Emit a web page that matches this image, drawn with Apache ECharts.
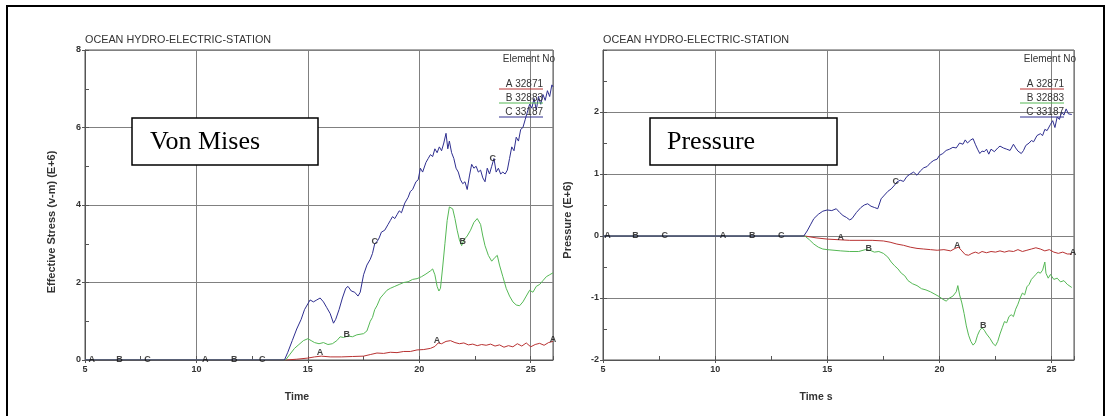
<!DOCTYPE html>
<html>
<head>
<meta charset="utf-8">
<script src="https://cdn.jsdelivr.net/npm/echarts@6/dist/echarts.min.js"></script>
<style>html,body{margin:0;padding:0;background:#fff;}#c{width:1111px;height:416px;}</style>
</head>
<body>
<div id="c"></div>
<script>
// ---------- data (time s, value E+6) ----------
var chartTitle = 'OCEAN HYDRO-ELECTRIC-STATION';
var legendTitle = 'Element No';
var legendNames = ['A 32871', 'B 32883', 'C 33187'];
var xTicks = [5, 10, 15, 20, 25];
var vmTicks = [0, 2, 4, 6, 8];
var prTicks = [-2, -1, 0, 1, 2];

var vmA = [[5,0],[14.0,0],[14.5,0.02],[15.0,0.05],[15.3,0.08],[15.6,0.1],[16.0,0.08],[16.5,0.08],[17.0,0.09],[17.5,0.1],[17.8,0.14],[18.1,0.18],[18.4,0.17],[18.7,0.2],[19.0,0.19],[19.3,0.22],[19.6,0.22],[19.9,0.26],[20.2,0.27],[20.5,0.3],[20.7,0.35],[20.85,0.44],[21.0,0.42],[21.2,0.48],[21.4,0.5],[21.6,0.45],[21.8,0.42],[22.0,0.44],[22.2,0.39],[22.4,0.41],[22.6,0.37],[22.8,0.4],[23.0,0.38],[23.2,0.41],[23.4,0.36],[23.6,0.39],[23.8,0.33],[24.0,0.37],[24.2,0.34],[24.4,0.42],[24.6,0.36],[24.8,0.44],[25.0,0.34],[25.2,0.4],[25.4,0.43],[25.6,0.38],[25.8,0.45],[26.0,0.48]];
var vmB = [[5,0],[14.0,0],[14.2,0.15],[14.4,0.3],[14.6,0.4],[14.8,0.5],[15.0,0.55],[15.15,0.5],[15.3,0.45],[15.5,0.42],[15.7,0.45],[15.9,0.4],[16.1,0.42],[16.3,0.5],[16.45,0.6],[16.6,0.58],[16.8,0.62],[17.0,0.6],[17.2,0.65],[17.5,0.68],[17.65,0.75],[17.8,1.0],[17.9,1.1],[18.0,1.3],[18.1,1.4],[18.25,1.6],[18.4,1.7],[18.55,1.8],[18.7,1.85],[18.9,1.9],[19.1,1.95],[19.3,2.0],[19.5,2.02],[19.7,2.08],[19.9,2.1],[20.1,2.15],[20.3,2.22],[20.5,2.3],[20.6,2.35],[20.7,2.2],[20.8,1.9],[20.88,1.78],[20.95,1.85],[21.05,2.4],[21.15,3.0],[21.25,3.6],[21.35,3.95],[21.5,3.9],[21.6,3.65],[21.7,3.35],[21.8,3.1],[21.9,2.95],[22.0,3.1],[22.15,3.2],[22.3,3.35],[22.45,3.55],[22.6,3.65],[22.75,3.5],[22.85,3.2],[22.95,2.95],[23.1,2.7],[23.25,2.55],[23.4,2.65],[23.5,2.7],[23.6,2.45],[23.75,2.15],[23.9,1.85],[24.05,1.65],[24.2,1.5],[24.35,1.42],[24.5,1.4],[24.65,1.5],[24.8,1.65],[24.95,1.8],[25.1,1.75],[25.25,1.9],[25.4,1.95],[25.55,2.05],[25.7,2.15],[25.85,2.2],[26.0,2.25]];
var vmC = [[5,0],[13.95,0],[14.1,0.2],[14.3,0.5],[14.5,0.8],[14.7,1.05],[14.85,1.3],[15.0,1.45],[15.1,1.55],[15.25,1.5],[15.4,1.55],[15.55,1.6],[15.7,1.5],[15.85,1.35],[16.0,1.2],[16.15,0.95],[16.25,1.05],[16.4,1.3],[16.55,1.6],[16.7,1.85],[16.8,1.9],[16.95,1.78],[17.1,1.75],[17.25,1.65],[17.35,1.75],[17.5,2.2],[17.65,2.45],[17.8,2.6],[17.9,2.75],[18.0,3.0],[18.1,3.05],[18.2,3.15],[18.3,3.3],[18.45,3.35],[18.6,3.5],[18.7,3.6],[18.8,3.7],[18.9,3.65],[19.0,3.75],[19.1,3.85],[19.2,3.8],[19.35,4.05],[19.5,4.2],[19.6,4.35],[19.7,4.4],[19.85,4.6],[19.95,4.65],[20.05,4.95],[20.15,4.85],[20.3,5.1],[20.4,5.2],[20.5,5.3],[20.6,5.25],[20.7,5.45],[20.8,5.35],[20.9,5.5],[21.0,5.4],[21.1,5.6],[21.2,5.85],[21.28,5.45],[21.35,5.65],[21.45,5.35],[21.55,5.2],[21.65,4.95],[21.75,4.85],[21.85,4.65],[21.95,4.55],[22.05,4.6],[22.15,4.4],[22.25,4.75],[22.35,5.05],[22.45,4.95],[22.55,5.0],[22.65,4.85],[22.75,4.9],[22.85,4.7],[22.95,4.6],[23.05,4.95],[23.15,4.8],[23.25,5.0],[23.35,5.2],[23.45,4.85],[23.55,4.95],[23.65,4.8],[23.75,4.85],[23.85,4.8],[23.95,4.9],[24.05,5.2],[24.15,5.5],[24.25,5.4],[24.35,5.75],[24.45,5.65],[24.55,5.95],[24.65,6.0],[24.75,6.2],[24.85,6.4],[24.95,6.6],[25.05,6.5],[25.15,6.75],[25.25,6.45],[25.35,6.8],[25.45,6.6],[25.55,6.85],[25.65,6.7],[25.75,6.95],[25.85,6.8],[25.95,7.1],[26.0,7.05]];

var prA = [[5,0],[14.0,0],[14.5,-0.03],[15.0,-0.05],[15.5,-0.06],[16.0,-0.07],[16.5,-0.07],[17.0,-0.07],[17.5,-0.08],[17.8,-0.1],[18.1,-0.13],[18.4,-0.15],[18.7,-0.18],[19.0,-0.2],[19.3,-0.21],[19.6,-0.22],[19.9,-0.23],[20.2,-0.22],[20.5,-0.24],[20.7,-0.2],[20.85,-0.18],[21.0,-0.24],[21.15,-0.3],[21.3,-0.31],[21.45,-0.28],[21.6,-0.26],[21.75,-0.28],[21.9,-0.25],[22.1,-0.27],[22.3,-0.25],[22.5,-0.26],[22.7,-0.24],[22.9,-0.26],[23.1,-0.24],[23.3,-0.25],[23.5,-0.22],[23.7,-0.25],[23.9,-0.23],[24.1,-0.21],[24.3,-0.19],[24.5,-0.21],[24.7,-0.24],[24.9,-0.22],[25.1,-0.26],[25.3,-0.28],[25.5,-0.26],[25.7,-0.29],[25.9,-0.29]];
var prB = [[5,0],[14.0,0],[14.2,-0.06],[14.4,-0.13],[14.6,-0.18],[14.8,-0.21],[15.0,-0.22],[15.3,-0.23],[15.6,-0.24],[16.0,-0.25],[16.4,-0.25],[16.7,-0.22],[16.9,-0.23],[17.1,-0.26],[17.3,-0.25],[17.5,-0.28],[17.7,-0.34],[17.85,-0.42],[18.0,-0.48],[18.15,-0.53],[18.3,-0.6],[18.45,-0.64],[18.6,-0.72],[18.8,-0.77],[19.0,-0.8],[19.2,-0.85],[19.4,-0.87],[19.6,-0.9],[19.8,-0.94],[20.0,-0.98],[20.15,-1.02],[20.3,-1.05],[20.45,-1.0],[20.6,-0.97],[20.75,-0.9],[20.82,-0.8],[20.9,-0.95],[21.0,-1.08],[21.1,-1.25],[21.2,-1.45],[21.3,-1.6],[21.4,-1.7],[21.5,-1.76],[21.6,-1.72],[21.7,-1.6],[21.8,-1.52],[21.9,-1.48],[22.0,-1.52],[22.1,-1.58],[22.25,-1.65],[22.4,-1.74],[22.5,-1.77],[22.6,-1.7],[22.7,-1.58],[22.8,-1.48],[22.9,-1.38],[23.0,-1.4],[23.1,-1.3],[23.2,-1.27],[23.3,-1.3],[23.4,-1.18],[23.5,-1.1],[23.6,-1.0],[23.7,-0.92],[23.8,-0.95],[23.9,-0.82],[24.0,-0.78],[24.1,-0.7],[24.2,-0.66],[24.3,-0.62],[24.4,-0.58],[24.5,-0.6],[24.6,-0.55],[24.7,-0.42],[24.75,-0.6],[24.85,-0.68],[24.95,-0.62],[25.1,-0.7],[25.25,-0.68],[25.4,-0.74],[25.55,-0.72],[25.7,-0.78],[25.9,-0.83]];
var prC = [[5,0],[13.95,0],[14.1,0.08],[14.25,0.18],[14.4,0.28],[14.6,0.35],[14.8,0.4],[15.0,0.42],[15.2,0.41],[15.4,0.44],[15.55,0.38],[15.7,0.33],[15.85,0.3],[16.0,0.26],[16.1,0.28],[16.3,0.38],[16.5,0.46],[16.65,0.5],[16.8,0.52],[16.95,0.48],[17.1,0.46],[17.25,0.44],[17.4,0.6],[17.55,0.66],[17.7,0.72],[17.85,0.76],[18.0,0.82],[18.1,0.87],[18.25,0.9],[18.4,0.88],[18.55,0.96],[18.7,1.0],[18.85,1.03],[19.0,0.98],[19.15,1.05],[19.3,1.1],[19.45,1.12],[19.6,1.18],[19.75,1.22],[19.9,1.24],[20.0,1.3],[20.15,1.33],[20.3,1.38],[20.45,1.4],[20.6,1.43],[20.75,1.42],[20.9,1.5],[21.05,1.48],[21.15,1.55],[21.25,1.5],[21.4,1.55],[21.5,1.57],[21.6,1.48],[21.7,1.4],[21.8,1.33],[21.9,1.37],[22.0,1.36],[22.1,1.4],[22.2,1.32],[22.3,1.4],[22.45,1.36],[22.6,1.42],[22.7,1.45],[22.85,1.42],[23.0,1.4],[23.15,1.38],[23.3,1.48],[23.4,1.42],[23.5,1.37],[23.65,1.33],[23.75,1.38],[23.85,1.46],[24.0,1.5],[24.1,1.54],[24.2,1.52],[24.35,1.62],[24.5,1.65],[24.6,1.62],[24.7,1.72],[24.8,1.7],[24.95,1.8],[25.05,1.86],[25.15,1.75],[25.25,1.92],[25.35,1.88],[25.45,2.0],[25.55,1.95],[25.65,2.05],[25.75,1.97],[25.9,1.96]];

// letter markers along the curves: [time, value, letter]
var vmMarks = [[5.3,0,'A'],[6.55,0,'B'],[7.8,0,'C'],[10.4,0,'A'],[11.7,0,'B'],[12.95,0,'C'],[15.55,0.2,'A'],[16.75,0.65,'B'],[18.0,3.05,'C'],[20.8,0.5,'A'],[21.95,3.05,'B'],[23.3,5.2,'C'],[26.0,0.52,'A']];
var prMarks = [[5.2,0,'A'],[6.45,0,'B'],[7.75,0,'C'],[10.35,0,'A'],[11.65,0,'B'],[12.95,0,'C'],[15.6,-0.03,'A'],[16.85,-0.2,'B'],[18.05,0.88,'C'],[20.8,-0.15,'A'],[21.95,-1.45,'B'],[25.95,-0.27,'A']];

// ---------- styling ----------
var colA = '#b83232', colB = '#55b855', colC = '#2e2e8f';
var axisCol = '#555', gridCol = '#808080', txtCol = '#333';
var sans = '"Liberation Sans", Arial, sans-serif';
var serif = '"Liberation Serif", "Times New Roman", serif';

function markData(arr){ return arr.map(function(m){ return {name: m[2], value: [m[0], m[1]]}; }); }

function mainX(gi){
  return {type:'value', gridIndex:gi, min:5, max:26, interval:5, position:'bottom',
    axisLine:{show:true, onZero:false, lineStyle:{color:axisCol, width:1}},
    axisTick:{show:true, inside:false, length:3, lineStyle:{color:axisCol}},
    axisLabel:{show:true, margin:5, fontSize:9, fontWeight:'bold', color:txtCol, fontFamily:sans, showMaxLabel:false},
    splitLine:{show:true, lineStyle:{color:gridCol, width:1}}};
}
function minorX(gi){
  return {type:'value', gridIndex:gi, min:5, max:26, interval:2.5, position:'bottom',
    axisLine:{show:false, onZero:false}, axisLabel:{show:false}, splitLine:{show:false},
    axisTick:{show:true, inside:true, length:4, lineStyle:{color:axisCol}}};
}
function mainY(gi, mn, mx, iv, showMax){
  return {type:'value', gridIndex:gi, min:mn, max:mx, interval:iv, position:'left',
    axisLine:{show:true, onZero:false, lineStyle:{color:axisCol, width:1}},
    axisTick:{show:true, inside:false, length:3, lineStyle:{color:axisCol}},
    axisLabel:{show:true, margin:4, fontSize:9, fontWeight:'bold', color:txtCol, fontFamily:sans, showMaxLabel:showMax},
    splitLine:{show:true, lineStyle:{color:gridCol, width:1}}};
}
function minorY(gi, mn, mx, iv){
  return {type:'value', gridIndex:gi, min:mn, max:mx, interval:iv, position:'left',
    axisLine:{show:false, onZero:false}, axisLabel:{show:false}, splitLine:{show:false},
    axisTick:{show:true, inside:true, length:4, lineStyle:{color:axisCol}}};
}
function lineS(data, col, xi, yi, nm){
  return {type:'line', name:nm, xAxisIndex:xi, yAxisIndex:yi, data:data, showSymbol:false, symbol:'none',
    lineStyle:{color:col, width:1}, itemStyle:{color:col}, animation:false, z:3};
}
function markS(arr, xi, yi){
  return {type:'scatter', xAxisIndex:xi, yAxisIndex:yi, data:markData(arr), symbolSize:1,
    itemStyle:{color:'rgba(0,0,0,0)'}, animation:false, z:5,
    label:{show:true, position:'inside', formatter:'{b}', fontSize:9, fontWeight:'bold', color:'#111', fontFamily:sans}};
}

function legendGraphic(rightX){
  var els = [];
  els.push({type:'text', x:rightX + 12, y:59, style:{text:legendTitle, align:'right', verticalAlign:'middle', fontSize:10, fontFamily:sans, fill:txtCol}, z:20});
  var cols = [colA, colB, colC];
  for (var i = 0; i < legendNames.length; i++) {
    var yy = 84 + i * 14;
    els.push({type:'line', shape:{x1:rightX - 44, y1:yy + 5, x2:rightX, y2:yy + 5}, style:{stroke:cols[i], lineWidth:1}, z:20});
    els.push({type:'text', x:rightX, y:yy, style:{text:legendNames[i], align:'right', verticalAlign:'middle', fontSize:10, fontFamily:sans, fill:txtCol}, z:21});
  }
  return els;
}

var graphics = [
  {type:'rect', shape:{x:7, y:6, width:1097, height:420}, style:{fill:'none', stroke:'#000', lineWidth:2}, z:1},
  {type:'rect', shape:{x:132, y:118, width:186, height:47}, style:{fill:'#fff', stroke:'#000', lineWidth:1.5}, z:30},
  {type:'text', x:150, y:142, style:{text:'Von Mises', align:'left', verticalAlign:'middle', fontSize:26, fontFamily:serif, fill:'#000'}, z:31},
  {type:'rect', shape:{x:650, y:118, width:187, height:47}, style:{fill:'#fff', stroke:'#000', lineWidth:1.5}, z:30},
  {type:'text', x:667, y:142, style:{text:'Pressure', align:'left', verticalAlign:'middle', fontSize:26, fontFamily:serif, fill:'#000'}, z:31},
  {type:'text', x:52, y:222, rotation:Math.PI/2, style:{text:'Effective Stress (v-m) (E+6)', align:'center', verticalAlign:'middle', fontSize:11, fontWeight:'bold', fontFamily:sans, fill:txtCol}, z:20},
  {type:'text', x:568, y:220, rotation:Math.PI/2, style:{text:'Pressure (E+6)', align:'center', verticalAlign:'middle', fontSize:11, fontWeight:'bold', fontFamily:sans, fill:txtCol}, z:20},
  {type:'text', x:297, y:397, style:{text:'Time', align:'center', verticalAlign:'middle', fontSize:10.5, fontWeight:'bold', fontFamily:sans, fill:txtCol}, z:20},
  {type:'text', x:816, y:397, style:{text:'Time s', align:'center', verticalAlign:'middle', fontSize:10.5, fontWeight:'bold', fontFamily:sans, fill:txtCol}, z:20}
].concat(legendGraphic(543)).concat(legendGraphic(1064));

var chart = echarts.init(document.getElementById('c'), null, {renderer:'canvas'});
chart.setOption({
  backgroundColor:'#fff',
  animation:false,
  title:[
    {text:chartTitle, left:85, top:35, textStyle:{fontSize:10.8, fontWeight:'normal', color:txtCol, fontFamily:sans}, padding:0},
    {text:chartTitle, left:603, top:35, textStyle:{fontSize:10.8, fontWeight:'normal', color:txtCol, fontFamily:sans}, padding:0}
  ],
  grid:[
    {left:85, top:50, width:468, height:310, show:true, borderColor:axisCol, borderWidth:1, backgroundColor:'transparent'},
    {left:603, top:50, width:471, height:310, show:true, borderColor:axisCol, borderWidth:1, backgroundColor:'transparent'}
  ],
  xAxis:[mainX(0), minorX(0), mainX(1), minorX(1)],
  yAxis:[mainY(0, 0, 8, 2, true), minorY(0, 0, 8, 1), mainY(1, -2, 3, 1, false), minorY(1, -2, 3, 0.5)],
  series:[
    lineS(vmA, colA, 0, 0, 'A'), lineS(vmB, colB, 0, 0, 'B'), lineS(vmC, colC, 0, 0, 'C'),
    markS(vmMarks, 0, 0),
    lineS(prA, colA, 2, 2, 'A'), lineS(prB, colB, 2, 2, 'B'), lineS(prC, colC, 2, 2, 'C'),
    markS(prMarks, 2, 2)
  ],
  graphic:graphics
});
</script>
</body>
</html>
